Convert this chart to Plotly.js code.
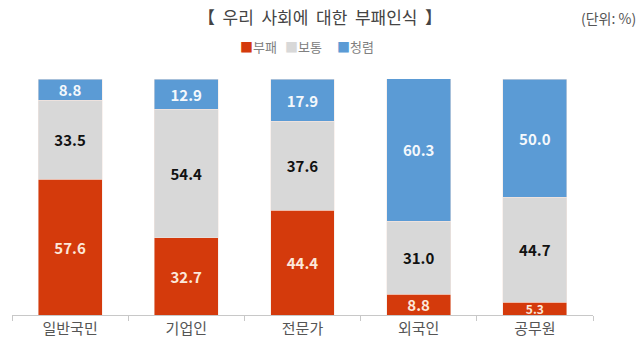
<!DOCTYPE html>
<html><head><meta charset="utf-8">
<script src="https://cdn.plot.ly/plotly-3.0.1.min.js"></script>
<style>html,body{margin:0;padding:0;background:#fff}#chart{width:640px;height:360px}</style>
</head><body><div id="chart"></div>
<script>
const categories = ['일반국민', '기업인', '전문가', '외국인', '공무원'];
const corrupt = [57.6, 32.7, 44.4, 8.8, 5.3];   // 부패
const normal  = [33.5, 54.4, 37.6, 31.0, 44.7]; // 보통
const clean   = [8.8, 12.9, 17.9, 60.3, 50.0];  // 청렴
const seriesNames = ['부패', '보통', '청렴'];
const colors = ['#D43A0C', '#D8D8D8', '#5B9BD5'];

const fontKR = '"Noto Sans CJK KR", "Noto Sans", sans-serif';
const fmt = v => v.toFixed(1);

function trace(name, vals, color, textColor) {
  return {
    type: 'bar', name: name, x: categories, y: vals,
    marker: {color: color, line: {color: '#f4e6e0', width: 0.5}},
    text: vals.map(fmt), textposition: 'inside', insidetextanchor: 'middle',
    constraintext: 'none',
    textfont: {family: fontKR, size: vals.map(v => v < 7 ? 12 : 15), color: textColor, weight: 'bold'},
    hoverinfo: 'skip', showlegend: false
  };
}

const data = [
  trace(seriesNames[0], corrupt, colors[0], '#FCE8DA'),
  trace(seriesNames[1], normal, colors[1], '#111111'),
  trace(seriesNames[2], clean, colors[2], '#F4F8FC')
];

const legendCenters = [258, 303, 355];
const legendAnns = seriesNames.map((n, i) => ({
  text: '<span style="color:' + colors[i] + '">■</span>' + n,
  xref: 'paper', yref: 'paper', x: (legendCenters[i] - 12) / 581, xanchor: 'center',
  y: 1 + (79 - 47) / 236, yanchor: 'middle', showarrow: false,
  font: {family: fontKR, size: 13, color: '#808080'}
}));

const layout = {
  width: 640, height: 360,
  margin: {l: 12, r: 47, t: 79, b: 45},
  paper_bgcolor: '#ffffff', plot_bgcolor: '#ffffff',
  barmode: 'stack', bargap: 0.45,
  showlegend: false,
  title: {text: '【  우리  사회에  대한  부패인식  】', x: 0.5, xanchor: 'center',
          y: 1 - 18/360, yanchor: 'middle', yref: 'container',
          font: {family: fontKR, size: 17, color: '#444444'}},
  xaxis: {type: 'category', showline: true, linecolor: '#C8C8C8', linewidth: 1,
          ticks: 'outside', tickson: 'boundaries', ticklen: 5, tickcolor: '#C8C8C8',
          tickfont: {family: fontKR, size: 15, color: '#555555'}, showgrid: false, zeroline: false},
  yaxis: {range: [0, 100], visible: false, showgrid: false, zeroline: false},
  annotations: [
    {text: '(단위: %)', xref: 'paper', yref: 'paper', x: 1.077, xanchor: 'right',
     y: 1 + (79-18)/236, yanchor: 'middle', showarrow: false,
     font: {family: fontKR, size: 14, color: '#555555'}}
  ].concat(legendAnns)
};

Plotly.newPlot('chart', data, layout, {displayModeBar: false, staticPlot: true});
</script></body></html>
